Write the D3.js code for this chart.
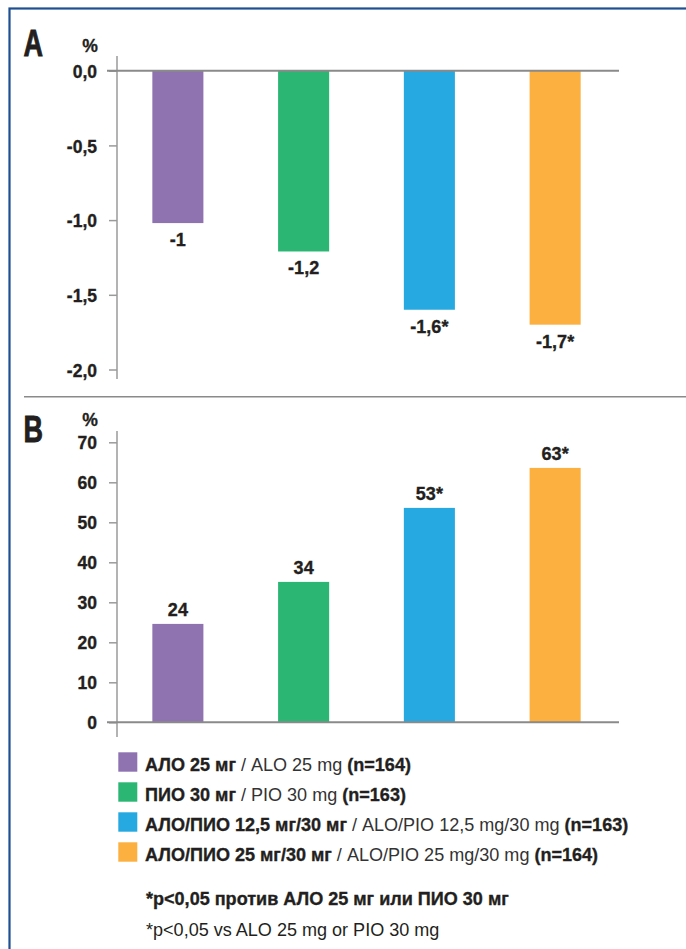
<!DOCTYPE html>
<html>
<head>
<meta charset="utf-8">
<script src="https://cdn.jsdelivr.net/npm/d3@7"></script>
<style>
  html, body { margin: 0; padding: 0; background: #fff; }
  svg { display: block; }
  text { font-family: "Liberation Sans", Arial, sans-serif; fill: #231f20; }
  .heavy { stroke: #231f20; stroke-width: 0.35px; }
</style>
</head>
<body>
<svg id="chart" width="686" height="949"></svg>
<script>
// ---- data ----
const categories = ["ALO25", "PIO30", "ALOPIO12", "ALOPIO25"];
const colors = ["#8f73b1", "#2bb673", "#25a9e0", "#fbb040"];
const valuesA = [-1.02, -1.21, -1.6, -1.7];
const labelsA = ["-1", "-1,2", "-1,6*", "-1,7*"];
const ticksA = [0, -0.5, -1, -1.5, -2];
const tickLabelsA = ["0,0", "-0,5", "-1,0", "-1,5", "-2,0"];
const valuesB = [24.6, 35.1, 53.6, 63.6];
const labelsB = ["24", "34", "53*", "63*"];
const ticksB = [0, 10, 20, 30, 40, 50, 60, 70];
const legendBold1 = ["АЛО 25 мг", "ПИО 30 мг", "АЛО/ПИО 12,5 мг/30 мг", "АЛО/ПИО 25 мг/30 мг"];
const legendRegular = [" / ALO 25 mg ", " / PIO 30 mg ", " / ALO/PIO 12,5 mg/30 mg ", " / ALO/PIO 25 mg/30 mg "];
const legendBold2 = ["(n=164)", "(n=163)", "(n=163)", "(n=164)"];
const footnoteRu = "*p<0,05 против АЛО 25 мг или ПИО 30 мг";
const footnoteEn = "*p<0,05 vs ALO 25 mg or PIO 30 mg";

const svg = d3.select("#chart");
const FS = 18.5;

// emulate a condensed face by horizontally scaling Liberation Sans
const probe = svg.append("text").attr("font-size", FS);
probe.append("tspan").attr("font-weight", "bold").text(legendBold1[2]);
probe.append("tspan").attr("font-weight", "normal").text(legendRegular[2]);
probe.append("tspan").attr("font-weight", "bold").text(legendBold2[2]);
const rawLen = probe.node().getComputedTextLength();
probe.remove();
const SX = rawLen > 0 ? 483.6 / rawLen : 0.82;

function label(parent, x, y, anchor, sx) {
  return parent.append("text")
    .attr("transform", `translate(${x},${y}) scale(${sx || SX},1)`)
    .attr("text-anchor", anchor || "start");
}

// frame
svg.append("rect").attr("x", 9.5).attr("y", 8.5).attr("width", 700).attr("height", 960)
  .attr("fill", "none").attr("stroke", "#1d4f91").attr("stroke-width", 2.2);

const x = d3.scaleBand().domain(categories).range([115, 618]).paddingInner(0.594).paddingOuter(0.297);

function panel(opts) {
  const g = svg.append("g");
  const y = opts.y;
  g.append("line").attr("x1", 117).attr("x2", 117).attr("y1", opts.axisTop).attr("y2", opts.axisBottom)
    .attr("stroke", "#9a9a9a").attr("stroke-width", 1.5);
  const axis = d3.axisLeft(y).tickValues(opts.ticks).tickSize(8).tickPadding(11)
    .tickFormat((d, i) => opts.tickLabels[i]);
  const ag = g.append("g").attr("transform", "translate(117,0)").call(axis);
  ag.select(".domain").remove();
  ag.selectAll(".tick line").attr("stroke", "#9a9a9a").attr("stroke-width", 1.5);
  ag.selectAll(".tick text")
    .attr("x", null).attr("dy", null)
    .attr("class", "heavy")
    .attr("transform", `translate(-20,6.6) scale(${SX * 0.97},1)`)
    .attr("font-size", FS).attr("font-weight", "bold")
    .style("font-family", '"Liberation Sans", Arial, sans-serif')
    .attr("fill", "#231f20");
  g.selectAll("rect.bar").data(opts.values).enter().append("rect")
    .attr("class", "bar")
    .attr("x", (d, i) => x(categories[i]))
    .attr("width", x.bandwidth())
    .attr("y", d => Math.min(y(d), y(0)))
    .attr("height", d => Math.abs(y(d) - y(0)))
    .attr("fill", (d, i) => colors[i]);
  g.append("line").attr("x1", 107).attr("x2", 619).attr("y1", y(0)).attr("y2", y(0))
    .attr("stroke", "#8a8a8a").attr("stroke-width", 2);
  opts.values.forEach((d, i) => {
    label(g, x(categories[i]) + x.bandwidth() / 2, d < 0 ? y(d) + 23 : y(d) - 8, "middle")
      .attr("class", "heavy")
      .attr("font-size", FS).attr("font-weight", "bold").text(opts.labels[i]);
  });
  label(g, 23.5, opts.letterY, "start", 0.74).attr("class", "heavy")
    .style("stroke-width", "0.9px")
    .attr("font-size", 36.5).attr("font-weight", "bold").text(opts.letter);
  label(g, 90, opts.pctY, "middle").attr("font-size", 18).attr("font-weight", "bold").attr("class", "heavy").text("%");
}

panel({
  y: d3.scaleLinear().domain([0, -2]).range([70.7, 369.5]),
  ticks: ticksA, tickLabels: tickLabelsA, values: valuesA, labels: labelsA,
  axisTop: 56, axisBottom: 379, letter: "A", letterY: 56, pctY: 52
});

svg.append("line").attr("x1", 24).attr("x2", 686).attr("y1", 396.7).attr("y2", 396.7)
  .attr("stroke", "#8a8a8a").attr("stroke-width", 1.5);

panel({
  y: d3.scaleLinear().domain([0, 70]).range([722.3, 442.3]),
  ticks: ticksB, tickLabels: ticksB.map(String), values: valuesB, labels: labelsB,
  axisTop: 431, axisBottom: 737, letter: "B", letterY: 442, pctY: 426
});

// legend
const lg = svg.append("g");
categories.forEach((c, i) => {
  const top = 752.3 + i * 30;
  lg.append("rect").attr("x", 118.3).attr("y", top).attr("width", 19).attr("height", 19.4).attr("fill", colors[i]);
  const t = label(lg, 145, top + 18.7).attr("font-size", FS);
  t.append("tspan").attr("font-weight", "bold").attr("class", "heavy").text(legendBold1[i]);
  t.append("tspan").attr("font-weight", "normal").attr("fill", "#333").text(legendRegular[i]);
  t.append("tspan").attr("font-weight", "bold").attr("class", "heavy").text(legendBold2[i]);
});

label(svg, 146, 905).attr("font-size", FS).attr("font-weight", "bold").attr("class", "heavy").text(footnoteRu);
label(svg, 146, 935.5).attr("font-size", FS).attr("fill", "#333").text(footnoteEn);
</script>
</body>
</html>
